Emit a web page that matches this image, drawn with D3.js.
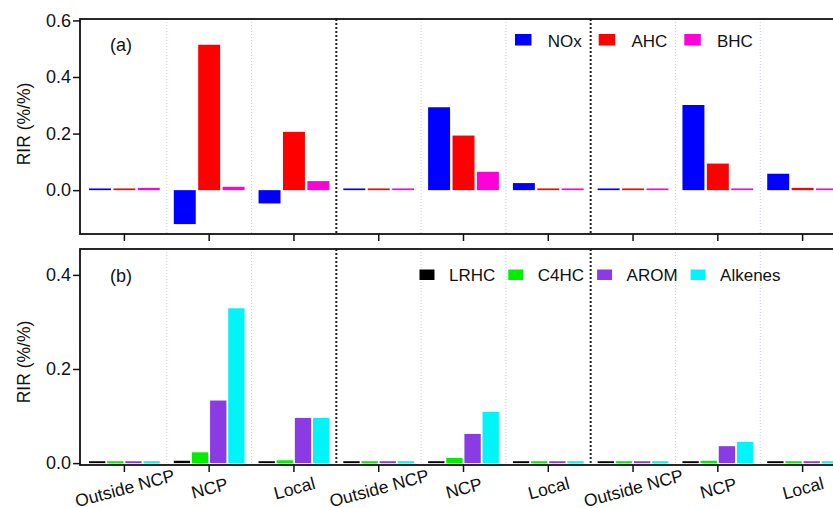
<!DOCTYPE html>
<html lang="en">
<head>
  <title>RIR chart</title>
  <meta charset="UTF-8">
  <style>
    body { margin: 0; background: #fff; font-family: "Liberation Sans", Arial, sans-serif; }
    svg { display: block; }
  </style>
  <script src="https://cdn.jsdelivr.net/npm/d3@7/dist/d3.min.js"></script>
</head>
<body>
<script>
  // categories (3 groups x 3 source regions)
  var categories = ["Outside NCP", "NCP", "Local", "Outside NCP", "NCP", "Local", "Outside NCP", "NCP", "Local"];

  // panel (a)
  var seriesA = ["NOx", "AHC", "BHC"];
  var colorsA = ["#0000ff", "#ff0000", "#ff00d8"];
  var noxValues = [0.006, -0.120, -0.047, 0.006, 0.293, 0.025, 0.006, 0.301, 0.058];
  var ahcValues = [0.006, 0.514, 0.206, 0.006, 0.193, 0.006, 0.006, 0.094, 0.008];
  var bhcValues = [0.008, 0.012, 0.032, 0.006, 0.065, 0.006, 0.006, 0.006, 0.006];
  var ticksA = [0, 0.2, 0.4, 0.6];

  // panel (b)
  var seriesB = ["LRHC", "C4HC", "AROM", "Alkenes"];
  var colorsB = ["#000000", "#00ee00", "#8a3be3", "#00f4f8"];
  var lrhcValues = [0.004, 0.005, 0.004, 0.004, 0.004, 0.004, 0.004, 0.004, 0.004];
  var c4hcValues = [0.004, 0.023, 0.006, 0.004, 0.011, 0.004, 0.004, 0.005, 0.004];
  var aromValues = [0.004, 0.133, 0.096, 0.004, 0.062, 0.004, 0.004, 0.036, 0.004];
  var alkenesValues = [0.004, 0.329, 0.096, 0.004, 0.109, 0.004, 0.004, 0.045, 0.004];
  var ticksB = [0, 0.2, 0.4];

  var W = 833, H = 508;
  var left = 80, right = 845;
  var FONT = "Liberation Sans, Arial, sans-serif";

  var svg = d3.select("body").append("svg").attr("width", W).attr("height", H)
    .attr("font-family", FONT);

  var idx = categories.map(function(d, i) { return i; });
  var x = d3.scaleBand().domain(idx).range([82, 845]).padding(0);

  function drawPanel(opts) {
    var y = d3.scaleLinear().domain(opts.domain).range([opts.bottom, opts.top]);
    var g = svg.append("g");
    var x1 = d3.scaleBand().domain(opts.series).range([7, x.bandwidth() - 7]).paddingInner(0.1);

    // light dotted separators between categories, dark ones between groups
    idx.slice(1).forEach(function(i) {
      var xx = x(i);
      var major = i % 3 === 0;
      g.append("line")
        .attr("x1", xx).attr("x2", xx)
        .attr("y1", opts.top).attr("y2", opts.bottom)
        .attr("stroke", major ? "#222" : "#c9cde8")
        .attr("stroke-width", major ? 2 : 1)
        .attr("stroke-dasharray", major ? "2,2" : "1,2");
    });

    // bars
    var rows = idx.map(function(i) {
      return opts.series.map(function(s, k) { return { i: i, s: s, k: k, v: opts.values[k][i] }; });
    });
    g.selectAll("g.cat")
      .data(rows)
      .enter().append("g")
      .attr("transform", function(d, i) { return "translate(" + x(i) + ",0)"; })
      .selectAll("rect")
      .data(function(d) { return d; })
      .enter().append("rect")
      .attr("x", function(d) { return x1(d.s); })
      .attr("width", x1.bandwidth())
      .attr("y", function(d) { return y(Math.max(0, d.v)); })
      .attr("height", function(d) { return Math.abs(y(d.v) - y(0)); })
      .attr("fill", function(d) { return opts.colors[d.k]; });

    // y axis
    var ya = g.append("g")
      .attr("transform", "translate(" + left + ",0)")
      .call(d3.axisLeft(y).tickValues(opts.ticks).tickFormat(d3.format(".1f")).tickSize(7).tickPadding(2));
    ya.attr("font-size", 18).attr("font-family", FONT);
    ya.select(".domain").remove();
    ya.selectAll("text").attr("fill", "#111");
    ya.selectAll("line").attr("stroke", "#111").attr("stroke-width", 1.5);

    // x axis ticks (labels drawn separately, rotated)
    var xa = g.append("g")
      .attr("transform", "translate(0," + opts.bottom + ")")
      .call(d3.axisBottom(x).tickSize(7).tickFormat(""));
    xa.select(".domain").remove();
    xa.selectAll("line").attr("stroke", "#111").attr("stroke-width", 1.5);
    if (opts.labels) {
      var lab = g.selectAll("g.xlab")
        .data(idx)
        .enter().append("g")
        .attr("class", "xlab")
        .attr("transform", function(i) {
          return "translate(" + (x(i) + x.bandwidth() / 2 + 2) + "," + (opts.bottom + 29) + ")";
        });
      lab.append("text")
        .attr("transform", "rotate(-15)")
        .attr("text-anchor", "middle")
        .attr("font-size", 17.5)
        .attr("fill", "#111")
        .text(function(i) { return categories[i]; });
    }

    // frame
    g.append("rect")
      .attr("x", left).attr("y", opts.top)
      .attr("width", right - left).attr("height", opts.bottom - opts.top)
      .attr("fill", "none").attr("stroke", "#111").attr("stroke-width", 1.8);

    // axis title
    g.append("text")
      .attr("transform", "translate(30," + opts.titleY + ") rotate(-90)")
      .attr("text-anchor", "middle")
      .attr("font-size", 17.5)
      .attr("fill", "#111")
      .text("RIR (%/%)");

    // panel tag
    g.append("text")
      .attr("x", 110).attr("y", opts.tagY)
      .attr("font-size", 18)
      .attr("fill", "#111")
      .text(opts.tag);

    // legend
    var lg = g.append("g");
    var cx = opts.legend.x;
    opts.series.forEach(function(s, k) {
      lg.append("rect")
        .attr("x", cx).attr("y", opts.legend.y - opts.legend.sh)
        .attr("width", opts.legend.sw).attr("height", opts.legend.sh)
        .attr("fill", opts.colors[k]);
      var t = lg.append("text")
        .attr("x", cx + opts.legend.toText).attr("y", opts.legend.y + 1)
        .attr("font-size", 17)
        .attr("fill", "#111")
        .text(s);
      cx += opts.legend.toText + t.node().getComputedTextLength() + opts.legend.gap;
    });
  }

  drawPanel({
    top: 19, bottom: 234, domain: [-0.155, 0.605], ticks: ticksA,
    series: seriesA, colors: colorsA, values: [noxValues, ahcValues, bhcValues],
    labels: false, titleY: 124, tag: "(a)", tagY: 51,
    legend: { x: 515, y: 45.5, sw: 16.5, sh: 11.5, toText: 32.7, gap: 17 }
  });

  drawPanel({
    top: 249, bottom: 465, domain: [-0.004, 0.455], ticks: ticksB,
    series: seriesB, colors: colorsB, values: [lrhcValues, c4hcValues, aromValues, alkenesValues],
    labels: true, titleY: 362, tag: "(b)", tagY: 282,
    legend: { x: 419.5, y: 280, sw: 15, sh: 10.5, toText: 29.5, gap: 13 }
  });
</script>
</body>
</html>
